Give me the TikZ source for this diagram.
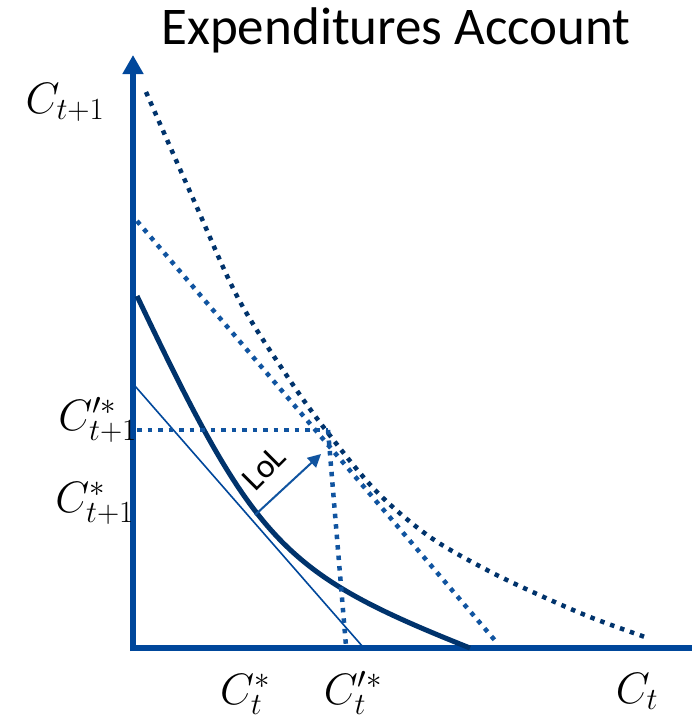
\documentclass[tikz,border=0pt]{standalone}
\usepackage{fix-cm}
\usepackage{fontspec}
\newfontfamily\calibri{Carlito}
\usetikzlibrary{arrows.meta}
\definecolor{axisblue}{RGB}{0,71,155}
\definecolor{navy}{RGB}{0,51,108}
\definecolor{dotblue}{RGB}{16,84,160}
\tikzset{
 axisline/.style={draw=axisblue, line width=5.5pt, -{Triangle[length=19pt,width=20pt]}},
 bluedots/.style={draw=dotblue, line width=4.5pt, dash pattern=on 4.5pt off 6pt},
 navydots/.style={draw=navy, line width=4.5pt, dash pattern=on 4.5pt off 6pt},
 icurve/.style={draw=navy, line width=5pt},
 thinline/.style={draw=axisblue, line width=1.6pt},
 lbl/.style={font=\fontsize{44}{50}\selectfont, inner sep=0pt},
}
\begin{document}
\begin{tikzpicture}[x=1pt,y=-1pt]
\useasboundingbox (0,0) rectangle (692,721);
\fill[white] (0,0) rectangle (692,721);

% key points
\coordinate (ytop) at (133,55);
\coordinate (yfoot) at (133,651);
\coordinate (xfoot) at (130,648);
\coordinate (xend) at (712,648);
\coordinate (hstart) at (137,430);
\coordinate (corner) at (328,430);
\coordinate (vend) at (346,646);
\coordinate (T) at (255,515);
\coordinate (lolTip) at (321,454);
\coordinate (tanA) at (135,386);
\coordinate (tanB) at (363,647);
\coordinate (budA) at (137,221);
\coordinate (budB) at (498,644);
\coordinate (icA) at (137,296);
\coordinate (icB) at (470,648);

% title
\node[font=\calibri\fontsize{53}{60}\selectfont, anchor=base, inner sep=0pt] (title) at (396,44) {Expenditures Account};

% axes
\draw[axisline] (yfoot) -- (ytop);
\draw[axisline] (xfoot) -- (xend);

% thin tangent budget line
\draw[thinline] (tanA) -- (tanB);

% solid indifference curve
\draw[icurve] (icA) .. controls (255,544) and (282,573) .. (icB);

% new budget line (dotted)
\draw[bluedots] (budA) -- (budB);

% outer indifference curve (dotted)
\draw[navydots] plot[smooth, tension=0.55] coordinates {(146,92) (195,203) (238,298) (287,376) (328,433) (377,492) (430,537) (487,570) (537,594) (590,617) (645,637)};

% guide lines
\draw[bluedots] (hstart) -- (corner);
\draw[bluedots] (corner) -- (vend);

% LoL arrow
\draw[draw=dotblue, line width=2pt, -{Triangle[length=13pt,width=13pt]}] (T) -- (lolTip);
\node[font=\calibri\fontsize{34}{38}\selectfont, rotate=45, inner sep=0pt] (lol) at (264,468) {LoL};

% labels
\node[lbl, anchor=base] (lCt1) at (65,113) {$C_{t+1}$};
\node[lbl, anchor=base east] (lCp1) at (137,430) {$C^{\prime *}_{t+1}$};
\node[lbl, anchor=base east] (lCs1) at (134,512) {$C^{*}_{t+1}$};
\node[lbl, anchor=base] (lCst) at (245,704) {$C^{*}_{t}$};
\node[lbl, anchor=base] (lCpt) at (353,704) {$C^{\prime *}_{t}$};
\node[lbl, anchor=base] (lCt) at (637,703) {$C_{t}$};
\end{tikzpicture}
\end{document}
